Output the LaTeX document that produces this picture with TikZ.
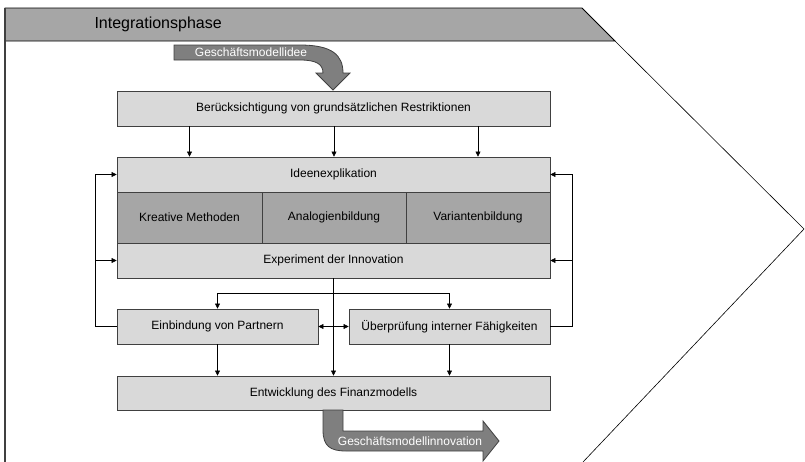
\documentclass[tikz,border=0pt]{standalone}
\usepackage{fontspec}
\setmainfont{Liberation Sans}
\usetikzlibrary{arrows.meta}
\definecolor{barGray}{HTML}{A6A6A6}
\definecolor{boxGray}{HTML}{D9D9D9}
\definecolor{arrowGray}{HTML}{7F7F7F}
\definecolor{edgeGray}{HTML}{404040}
\tikzset{
  box/.style={draw=edgeGray, fill=boxGray, line width=0.8pt, inner sep=0pt,
    font=\fontsize{12}{14}\selectfont},
  methodbox/.style={box, fill=barGray},
  flow/.style={-{Triangle[length=5pt,width=5pt]}, line width=0.5pt},
  bigarrow/.style={fill=arrowGray, draw=edgeGray, line width=0.8pt},
  arrowtext/.style={text=white, font=\fontsize{12}{14}\selectfont}
}
\begin{document}
\begin{tikzpicture}
\useasboundingbox (0pt,0pt) rectangle (805pt,-461pt);
% phase frame
\draw[fill=barGray, draw=black, line width=0.8pt] (5pt,-8pt) -- (582pt,-8pt) -- (615pt,-41pt) -- (5pt,-41pt) -- cycle;
\draw[color=edgeGray, line width=1.2pt] (5pt,-8pt) -- (5pt,-462pt);
\draw[line width=0.6pt] (615pt,-41pt) -- (804pt,-229pt) -- (583pt,-462pt);
\node[anchor=west, font=\fontsize{16}{18}\selectfont] (phase) at (91pt,-24.5pt) {Integrationsphase};

% input arrow
\draw[bigarrow] (174pt,-45pt) -- (300pt,-45pt) .. controls (332pt,-45pt) and (343pt,-55pt) .. (343pt,-73pt)
  -- (350pt,-73pt) -- (333pt,-90pt) -- (316pt,-73pt) -- (323pt,-73pt)
  .. controls (323pt,-64pt) and (316pt,-60pt) .. (300pt,-60pt) -- (174pt,-60pt) -- cycle;
\node[arrowtext] (idea) at (251pt,-52.5pt) {Geschäftsmodellidee};

% boxes
\node[box, minimum width=433pt, minimum height=35pt] (restr) at (333.5pt,-108.5pt) {Berücksichtigung von grundsätzlichen Restriktionen};
\node[box, minimum width=433pt, minimum height=35pt] (expl) at (333.5pt,-174.5pt) {Ideenexplikation};
\node[methodbox, minimum width=145pt, minimum height=51pt] (kreativ) at (189.5pt,-217.5pt) {Kreative Methoden};
\node[methodbox, minimum width=144pt, minimum height=51pt] (analog) at (334pt,-217.5pt) {Analogienbildung};
\node[methodbox, minimum width=144pt, minimum height=51pt] (variant) at (478pt,-217.5pt) {Variantenbildung};
\node[box, minimum width=433pt, minimum height=35pt] (exper) at (333.5pt,-260.5pt) {Experiment der Innovation};
\node[box, minimum width=201pt, minimum height=35pt] (partner) at (217.5pt,-326.5pt) {Einbindung von Partnern};
\node[box, minimum width=201pt, minimum height=35pt] (pruef) at (449.5pt,-326.5pt) {Überprüfung interner Fähigkeiten};
\node[box, minimum width=433pt, minimum height=34pt] (finanz) at (333.5pt,-393pt) {Entwicklung des Finanzmodells};

% restrictions to explication
\draw[flow] (restr.south -| kreativ) -- (expl.north -| kreativ);
\draw[flow] (restr.south -| analog) -- (expl.north -| analog);
\draw[flow] (restr.south -| variant) -- (expl.north -| variant);

% feedback loops
\coordinate (loopL) at (95pt,-326.5pt);
\coordinate (loopR) at (572pt,-326.5pt);
\draw[flow] (partner.west) -- (loopL) |- (expl.west);
\draw[flow] (loopL |- exper) -- (exper.west);
\draw[flow] (pruef.east) -- (loopR) |- (expl.east);
\draw[flow] (loopR |- exper) -- (exper.east);

% experiment to partners, checks and finance
\coordinate (split) at (333.5pt,-293pt);
\draw[flow] (exper.south) -- (finanz.north);
\draw[flow] (split) -| (partner.north);
\draw[flow] (split) -| (pruef.north);
\draw[{Triangle[length=5pt,width=5pt]}-{Triangle[length=5pt,width=5pt]}, line width=0.5pt] (partner.east) -- (pruef.west);
\draw[flow] (partner.south) -- (partner.south |- finanz.north);
\draw[flow] (pruef.south) -- (pruef.south |- finanz.north);

% output arrow
\draw[bigarrow] (323pt,-410pt) -- (323pt,-430pt) .. controls (323pt,-446pt) and (330pt,-451pt) .. (346pt,-451pt)
  -- (483pt,-451pt) -- (483pt,-461pt) -- (499pt,-441pt) -- (483pt,-421pt) -- (483pt,-431pt)
  -- (343pt,-431pt) -- (343pt,-410pt) -- cycle;
\node[arrowtext] (innov) at (410pt,-441pt) {Geschäftsmodellinnovation};
\end{tikzpicture}
\end{document}
